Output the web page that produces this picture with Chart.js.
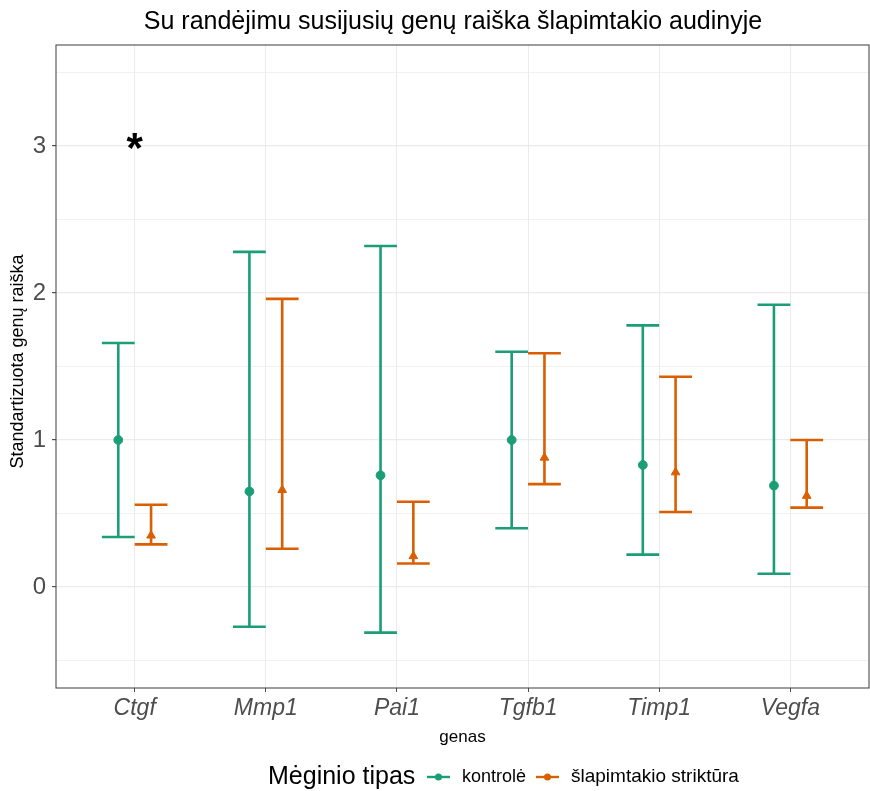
<!DOCTYPE html>
<html>
<head>
<meta charset="utf-8">
<script src="https://cdn.jsdelivr.net/npm/chart.js"></script>
<style>
  html, body { margin: 0; padding: 0; background: #fff; overflow: hidden; }
  #chart { display: block; }
</style>
</head>
<body>
<canvas id="chart" width="870" height="791"></canvas>
<script>
// genes on the x axis
const categories = ['Ctgf', 'Mmp1', 'Pai1', 'Tgfb1', 'Timp1', 'Vegfa'];

// kontrolė: mean and interval ends
const controlMean = [1.00, 0.65, 0.76, 1.00, 0.83, 0.69];
const controlLow = [0.34, -0.27, -0.31, 0.40, 0.22, 0.09];
const controlHigh = [1.66, 2.28, 2.32, 1.60, 1.78, 1.92];

// šlapimtakio striktūra: mean and interval ends
const strictMean = [0.35, 0.66, 0.21, 0.88, 0.78, 0.62];
const strictLow = [0.29, 0.26, 0.16, 0.70, 0.51, 0.54];
const strictHigh = [0.56, 1.96, 0.58, 1.59, 1.43, 1.00];

// significance marks
const sigLabels = ['*', '', '', '', '', ''];
const sigY = [3.0, null, null, null, null, null];

const yTicks = [0, 1, 2, 3];

const GREEN = '#1B9E77';
const ORANGE = '#D95F02';
const DODGE = 0.125;
const CAP = 0.125;
const FONT = '"Liberation Sans", Arial, sans-serif';

function pts(means, shift) {
    return means.map((v, i) => ({ x: i + 1 + shift, y: v }));
}

const errorBars = {
    id: 'errorBars',
    beforeDatasetsDraw(chart) {
        const { ctx, scales: { x, y } } = chart;
        const groups = [
            { low: controlLow, high: controlHigh, shift: -DODGE, color: GREEN },
            { low: strictLow, high: strictHigh, shift: DODGE, color: ORANGE }
        ];
        ctx.save();
        ctx.lineWidth = 2.6;
        ctx.lineCap = 'butt';
        groups.forEach(g => {
            ctx.strokeStyle = g.color;
            categories.forEach((c, i) => {
                const cx = x.getPixelForValue(i + 1 + g.shift);
                const l = x.getPixelForValue(i + 1 + g.shift - CAP);
                const r = x.getPixelForValue(i + 1 + g.shift + CAP);
                const yl = y.getPixelForValue(g.low[i]);
                const yh = y.getPixelForValue(g.high[i]);
                ctx.beginPath();
                ctx.moveTo(cx, yl); ctx.lineTo(cx, yh);
                ctx.moveTo(l, yl); ctx.lineTo(r, yl);
                ctx.moveTo(l, yh); ctx.lineTo(r, yh);
                ctx.stroke();
            });
        });
        ctx.restore();
    }
};

const decorations = {
    id: 'decorations',
    afterDraw(chart) {
        const { ctx, chartArea: a, scales: { x, y } } = chart;
        ctx.save();
        // panel border
        ctx.strokeStyle = '#4D4D4D';
        ctx.lineWidth = 1.1;
        ctx.strokeRect(a.left, a.top, a.right - a.left, a.bottom - a.top);

        // significance asterisk
        ctx.fillStyle = '#000';
        ctx.font = 'bold 42px ' + FONT;
        ctx.textAlign = 'center';
        ctx.textBaseline = 'middle';
        sigLabels.forEach((s, i) => {
            if (s) ctx.fillText(s, x.getPixelForValue(i + 1), y.getPixelForValue(sigY[i]) + 4);
        });

        // title
        ctx.fillStyle = '#000';
        ctx.font = '25px ' + FONT;
        ctx.fillText('Su randėjimu susijusių genų raiška šlapimtakio audinyje', 453, 22);

        // axis titles
        ctx.font = '17px ' + FONT;
        ctx.fillText('genas', (a.left + a.right) / 2, 737);
        ctx.save();
        ctx.font = '18px ' + FONT;
        ctx.translate(18, (a.top + a.bottom) / 2 - 5);
        ctx.rotate(-Math.PI / 2);
        ctx.fillText('Standartizuota genų raiška', 0, 0);
        ctx.restore();

        // legend
        const ly = 777;
        ctx.textAlign = 'left';
        ctx.font = '25px ' + FONT;
        ctx.fillText('Mėginio tipas', 268, ly);
        const keys = [
            { label: 'kontrolė', color: GREEN, kx: 427, tx: 462 },
            { label: 'šlapimtakio striktūra', color: ORANGE, kx: 536, tx: 571 }
        ];
        keys.forEach(k => {
            ctx.strokeStyle = k.color;
            ctx.fillStyle = k.color;
            ctx.lineWidth = 2.4;
            ctx.beginPath();
            ctx.moveTo(k.kx, ly); ctx.lineTo(k.kx + 23, ly);
            ctx.stroke();
            ctx.beginPath();
            ctx.arc(k.kx + 11.5, ly, 3.5, 0, Math.PI * 2);
            ctx.fill();
            ctx.fillStyle = '#000';
            ctx.font = (k.tx > 500 ? '19px ' : '18px ') + FONT;
            ctx.fillText(k.label, k.tx, ly);
        });
        ctx.restore();
    }
};

new Chart(document.getElementById('chart'), {
    type: 'scatter',
    data: {
        datasets: [
            {
                label: 'kontrolė',
                data: pts(controlMean, -DODGE),
                backgroundColor: GREEN,
                borderColor: GREEN,
                pointStyle: 'circle',
                pointRadius: 4.4
            },
            {
                label: 'šlapimtakio striktūra',
                data: pts(strictMean, DODGE),
                backgroundColor: ORANGE,
                borderColor: ORANGE,
                pointStyle: 'triangle',
                pointRadius: 5
            }
        ]
    },
    options: {
        responsive: false,
        animation: false,
        layout: { autoPadding: false, padding: { top: 45, right: 1, left: 0, bottom: 0 } },
        plugins: {
            legend: { display: false },
            title: { display: false },
            tooltip: { enabled: false }
        },
        scales: {
            x: {
                type: 'linear',
                min: 0.4,
                max: categories.length + 0.6,
                afterBuildTicks(scale) {
                    scale.ticks = categories.map((c, i) => ({ value: i + 1 }));
                },
                afterFit(scale) {
                    scale.height = 103;
                    scale.paddingLeft = 0;
                    scale.paddingRight = 0;
                },
                ticks: {
                    callback: v => categories[v - 1] || '',
                    font: { family: FONT, size: 23, style: 'italic' },
                    color: '#4D4D4D',
                    padding: 3,
                    maxRotation: 0
                },
                grid: {
                    color: '#EBEBEB',
                    lineWidth: 1,
                    tickColor: '#4D4D4D',
                    tickLength: 4
                },
                border: { display: false }
            },
            y: {
                min: -0.687,
                max: 3.687,
                afterBuildTicks(scale) {
                    const t = [];
                    for (let v = -0.5; v <= 3.5; v += 0.5) t.push({ value: v });
                    scale.ticks = t;
                },
                afterFit(scale) {
                    scale.width = 56;
                    scale.paddingTop = 0;
                    scale.paddingBottom = 0;
                },
                ticks: {
                    callback: v => (yTicks.includes(v) ? String(v) : ''),
                    font: { family: FONT, size: 24 },
                    color: '#4D4D4D',
                    padding: 6
                },
                grid: {
                    color: '#EBEBEB',
                    lineWidth: c => (c.tick && Number.isInteger(c.tick.value) ? 1.2 : 0.7),
                    tickColor: c => (c.tick && Number.isInteger(c.tick.value) ? '#4D4D4D' : 'rgba(0,0,0,0)'),
                    tickLength: 4
                },
                border: { display: false }
            }
        }
    },
    plugins: [errorBars, decorations]
});
</script>
</body>
</html>
